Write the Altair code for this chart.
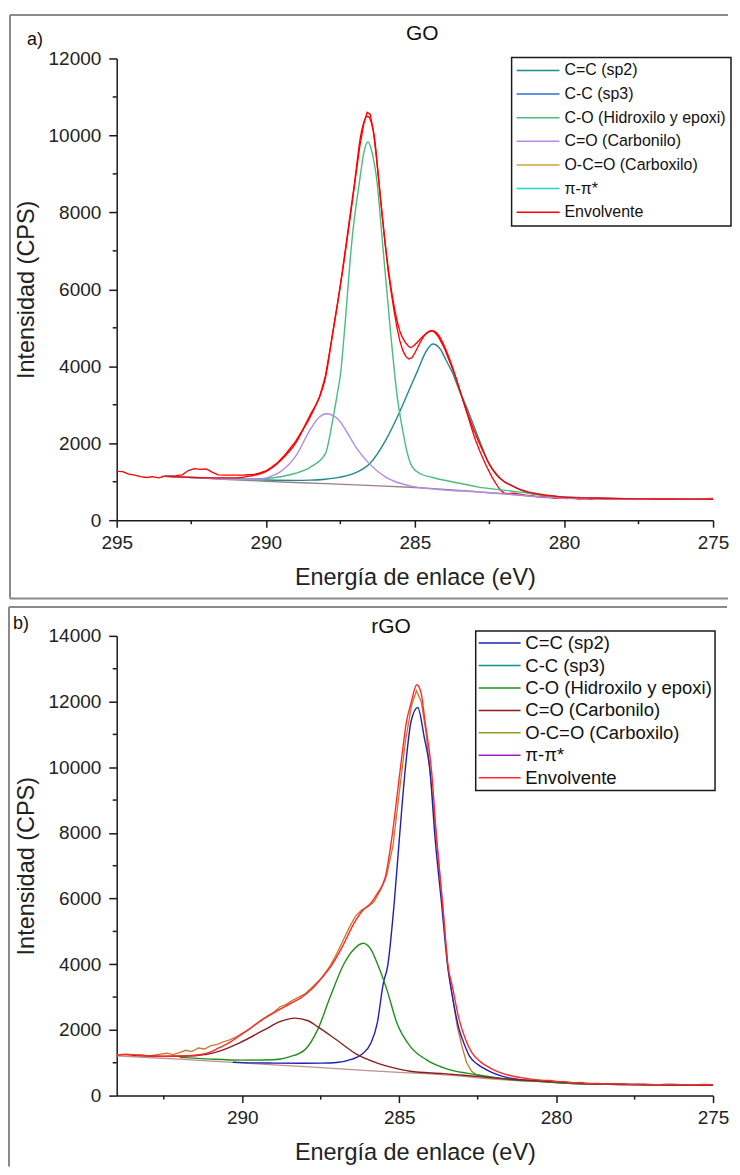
import altair as alt
import pandas as pd

# ---------------- labels / ticks ----------------
LABELS = ["C=C (sp2)", "C-C (sp3)", "C-O (Hidroxilo y epoxi)", "C=O (Carbonilo)",
          "O-C=O (Carboxilo)", "π-π*", "Envolvente"]
GO_COLORS = ["#20898f", "#2f6fd6", "#4cbb7f", "#b48ae6", "#c8a43a", "#22d3d3", "#ff0000"]
RGO_COLORS = ["#1f1fb4", "#0f8f8f", "#1f8f1f", "#8b1f1f", "#9a9a20", "#a020c8", "#ff2a2a"]

GO_XTICKS = [295, 290, 285, 280, 275]
GO_XMINOR = [292.5, 287.5, 282.5, 277.5]
GO_YTICKS = [0, 2000, 4000, 6000, 8000, 10000, 12000]
GO_YMINOR = [1000, 3000, 5000, 7000, 9000, 11000]
RGO_XTICKS = [290, 285, 280, 275]
RGO_XMINOR = [292.5, 287.5, 282.5, 277.5]
RGO_YTICKS = [0, 2000, 4000, 6000, 8000, 10000, 12000, 14000]
RGO_YMINOR = [1000, 3000, 5000, 7000, 9000, 11000, 13000]

# ---------------- GO (panel a) ----------------
GO_BG_E = [293.5, 292.9, 292, 291, 290, 289, 288, 287, 286.2, 285, 284, 283, 282.9, 282.3, 281.5, 281, 280.6, 280, 279, 278, 277, 276, 275]
GO_BG_I = [1145, 1120, 1090, 1050, 1010, 980, 950, 920, 890, 850, 800, 750, 735, 700, 650, 615, 590, 570, 555, 550, 548, 546, 545]

GO_CC_E = [293.4, 292, 291, 290, 289, 288.5, 288, 287.5, 287, 286.5, 286, 285.5, 285.2, 284.9, 284.65, 284.4, 284.15, 283.95, 283.75, 283.5, 283.3, 282.9, 282.5, 282.2, 281.75, 281.1, 280.3, 279.5, 279, 278, 277, 276, 275]
GO_CC_I = [1140, 1095, 1065, 1045, 1035, 1040, 1065, 1120, 1230, 1480, 2050, 2830, 3370, 3900, 4350, 4580, 4450, 4150, 3850, 3350, 3000, 2200, 1450, 1120, 900, 690, 620, 590, 575, 560, 552, 548, 545]

GO_CO_E = [293.4, 292, 291, 290.5, 290, 289.5, 289, 288.5, 288, 287.76, 287.62, 287.48, 287.37, 287.09, 286.87, 286.7, 286.57, 286.42, 286.26, 286.11, 285.81, 285.59, 285.4, 285.3, 285.1, 284.8, 284.4, 283.5, 282.9, 281.8, 281, 280, 279, 278, 277, 276, 275]
GO_CO_I = [1140, 1100, 1080, 1075, 1085, 1130, 1220, 1380, 1730, 2590, 3200, 3890, 4840, 7430, 8730, 9600, 9830, 9500, 8730, 7430, 4840, 3200, 2300, 1900, 1400, 1200, 1110, 960, 865, 760, 680, 600, 570, 555, 550, 547, 545]

GO_CDO_E = [293.4, 292, 291, 290.2, 289.9, 289.53, 288.98, 288.53, 288.2, 287.98, 287.8, 287.59, 287.31, 286.98, 286.53, 285.98, 285.5, 285.09, 284.5, 283.98, 283.5, 283, 282, 281, 280, 279, 277, 275]
GO_CDO_I = [1145, 1095, 1055, 1060, 1120, 1250, 1685, 2330, 2680, 2765, 2740, 2635, 2330, 1900, 1470, 1120, 960, 880, 820, 780, 760, 740, 690, 620, 575, 558, 549, 545]

GO_ENV_E = [293.4, 292, 291, 290.5, 290, 289.5, 289, 288.5, 288.2, 288, 287.76, 287.5, 287.26, 287.03, 286.81, 286.59, 286.37, 286.2, 286.03, 285.73, 285.5, 285.3, 285.14, 284.95, 284.7, 284.42, 284.2, 284, 283.75, 283.42, 283.2, 283, 282.75, 282.5, 282.25, 282, 281.75, 281.5, 281, 280.5, 280, 279, 278, 277, 276, 275]
GO_ENV_I = [1145, 1100, 1100, 1150, 1260, 1550, 2000, 2750, 3196, 3700, 4840, 6100, 7430, 8730, 10020, 10500, 10020, 8730, 7430, 5700, 4900, 4600, 4490, 4600, 4800, 4925, 4800, 4500, 4000, 3196, 2700, 2300, 1850, 1450, 1180, 1000, 900, 810, 700, 640, 600, 575, 560, 552, 548, 545]

GO_DATA_E = [295, 294.8, 294.6, 294.4, 294.2, 294, 293.8, 293.6, 293.4, 293.2, 293, 292.8, 292.6, 292.4, 292.2, 292, 291.8, 291.6, 291.3, 291, 290.7, 290.4, 290.2, 290, 289.8, 289.6, 289.4, 289.2, 289, 288.8, 288.6, 288.4, 288.2, 288, 287.8, 287.6, 287.4, 287.2, 287, 286.85, 286.7, 286.6, 286.5, 286.4, 286.3, 286.2, 286.1, 286, 285.9, 285.8, 285.7, 285.6, 285.5, 285.4, 285.3, 285.2, 285.1, 285, 284.9, 284.8, 284.7, 284.6, 284.5, 284.4, 284.3, 284.2, 284.1, 284, 283.9, 283.8, 283.6, 283.4, 283.2, 283, 282.8, 282.6, 282.4, 282.2, 282.1, 282, 281.9, 281.7, 281.5, 281.3, 281.1, 280.9, 280.7, 280.5, 280.3, 280.1, 279.9, 279.7, 279.5, 279.3, 279.1, 278.9, 278.6, 278.3, 278, 277.6, 277.2, 276.8, 276.4, 276, 275.6, 275.3, 275]
GO_DATA_I = [1270, 1260, 1200, 1170, 1130, 1110, 1130, 1100, 1140, 1150, 1160, 1180, 1290, 1340, 1320, 1330, 1250, 1180, 1170, 1170, 1175, 1190, 1230, 1280, 1380, 1500, 1660, 1850, 2050, 2300, 2550, 2850, 3200, 3750, 4650, 5600, 6600, 7700, 8850, 9700, 10350, 10600, 10550, 10150, 9500, 8750, 7950, 7200, 6500, 5950, 5450, 5000, 4650, 4400, 4250, 4190, 4220, 4350, 4500, 4650, 4780, 4870, 4920, 4920, 4850, 4750, 4600, 4450, 4250, 4050, 3650, 3150, 2650, 2150, 1750, 1400, 1100, 850, 760, 700, 690, 700, 680, 650, 640, 610, 620, 600, 570, 590, 560, 575, 545, 560, 540, 565, 545, 555, 560, 550, 555, 545, 555, 560, 550, 560, 565]

# ---------------- rGO (panel b) ----------------
RGO_BG_E = [294, 293, 292, 291, 290, 289, 288, 287, 286, 285, 284.5, 284, 283, 282.5, 282, 281.5, 281, 280, 279, 278, 277, 276, 275]
RGO_BG_I = [1210, 1160, 1110, 1050, 995, 935, 880, 820, 760, 710, 685, 660, 590, 540, 505, 470, 445, 410, 375, 350, 335, 328, 325]

RGO_CC_E = [290.3, 290, 289, 288, 287.5, 287, 286.5, 286.2, 285.9, 285.7, 285.5, 285.37, 285.16, 284.99, 284.81, 284.62, 284.41, 284.2, 284.02, 283.86, 283.65, 283.45, 283.3, 283.1, 282.9, 282.76, 282.5, 282.23, 281.5, 280.45, 279.4, 278, 277, 276, 275]
RGO_CC_I = [1015, 1005, 990, 985, 990, 1010, 1110, 1250, 1600, 2200, 3450, 3925, 5850, 7875, 9900, 11400, 11820, 10900, 9900, 7875, 5850, 3900, 3000, 2050, 1500, 1200, 950, 790, 540, 435, 365, 340, 330, 325, 322]

RGO_CO_E = [292, 291, 290, 289, 288.5, 288, 287.6, 287.2, 286.75, 286.45, 286.15, 285.9, 285.7, 285.39, 285.07, 284.65, 284.13, 283.4, 282.55, 281.5, 280.5, 279.5, 278, 277, 275]
RGO_CO_I = [1165, 1110, 1080, 1090, 1180, 1400, 2000, 3000, 4030, 4450, 4640, 4450, 4030, 3220, 2200, 1500, 1090, 790, 640, 490, 430, 370, 340, 330, 320]

RGO_CDO_E = [293.5, 292.5, 291.5, 290.75, 290.1, 289.3, 288.8, 288.33, 287.9, 287.6, 287, 286.33, 285.7, 285.2, 284.65, 283.6, 282, 281, 280, 279, 278, 277, 275]
RGO_CDO_I = [1230, 1195, 1215, 1345, 1600, 2000, 2250, 2360, 2280, 2100, 1700, 1245, 990, 850, 740, 670, 540, 470, 420, 370, 345, 332, 322]

RGO_ENV_E = [294, 293.7, 293.4, 293, 292.6, 292.2, 291.8, 291.38, 291, 290.75, 290.4, 290.12, 289.7, 289.28, 288.85, 288.44, 288.1, 287.81, 287.5, 287.18, 286.81, 286.44, 286.15, 285.91, 285.7, 285.44, 285.23, 284.97, 284.76, 284.63, 284.44, 284.3, 284.18, 283.97, 283.81, 283.62, 283.44, 283.3, 283.1, 282.9, 282.7, 282.4, 282.1, 281.8, 281.5, 281.2, 281, 280.8, 280.5, 280.2, 280, 279.7, 279.5, 279.2, 279, 278.7, 278.4, 278, 277.6, 277.2, 276.8, 276.4, 276, 275.6, 275.3, 275]
RGO_ENV_I = [1220, 1260, 1240, 1210, 1200, 1205, 1215, 1245, 1330, 1450, 1620, 1800, 2080, 2360, 2600, 2815, 3000, 3220, 3550, 3925, 4535, 5245, 5650, 5850, 6150, 6660, 7875, 9900, 11420, 11925, 12510, 12250, 11420, 9900, 7875, 5850, 3925, 3300, 2350, 1750, 1330, 1020, 840, 710, 620, 560, 530, 500, 470, 460, 430, 420, 390, 400, 360, 370, 350, 360, 340, 350, 330, 345, 335, 330, 340, 335]

RGO_DATA_E = [294, 293.8, 293.5, 293.2, 293, 292.8, 292.6, 292.4, 292.2, 292, 291.8, 291.6, 291.4, 291.2, 291, 290.8, 290.6, 290.4, 290.2, 290, 289.8, 289.6, 289.4, 289.2, 289, 288.8, 288.6, 288.4, 288.2, 288, 287.8, 287.5, 287.2, 287, 286.8, 286.6, 286.4, 286.2, 286, 285.8, 285.6, 285.4, 285.2, 285, 284.8, 284.6, 284.45, 284.3, 284.15, 284, 283.8, 283.6, 283.45, 283.3, 283.15, 283, 282.85, 282.7, 282.55, 282.4, 282.2, 282]
RGO_DATA_I = [1230, 1250, 1220, 1240, 1200, 1230, 1260, 1290, 1250, 1310, 1380, 1340, 1450, 1420, 1520, 1560, 1640, 1700, 1780, 1900, 2000, 2150, 2300, 2420, 2540, 2700, 2780, 2900, 3000, 3100, 3280, 3550, 3950, 4300, 4700, 5100, 5450, 5650, 5750, 5900, 6250, 6700, 7600, 9200, 10800, 11900, 12330, 12000, 11100, 9700, 7700, 5700, 3900, 3000, 2100, 1500, 1000, 750, 640, 600, 560, 530]

FONT = "Liberation Sans"


def df_of(E, I, name):
    return pd.DataFrame({"E": E, "I": I, "serie": name})


def panel(xdom, ydom, w, h, xticks, xminor, yticks, yminor,
          comps, bg, data, colors, data_color, bg_color, legend, frame, texts):
    xs = alt.Scale(domain=xdom, reverse=True, nice=False, zero=False)
    ys = alt.Scale(domain=ydom, nice=False, zero=False)
    x_axis = alt.Axis(values=xticks, format="d", tickSize=7, labelPadding=6,
                      title="Energía de enlace (eV)", titlePadding=13)
    y_axis = alt.Axis(values=yticks, format="d", tickSize=8, labelPadding=8,
                      title="Intensidad (CPS)", titlePadding=10)
    one = pd.DataFrame({"k": [0]})

    comp_df = pd.concat([df_of(*c) for c in comps], ignore_index=True)
    color = alt.Color("serie:N", scale=alt.Scale(domain=LABELS, range=colors),
                      sort=LABELS, legend=legend)

    def X(f):
        return alt.X(f, scale=xs, axis=x_axis)

    def Y(f):
        return alt.Y(f, scale=ys, axis=y_axis)

    base_line = alt.Chart(df_of(*bg)).mark_line(color=bg_color, strokeWidth=1.3).encode(
        x=X("E:Q"), y=Y("I:Q"))
    data_line = alt.Chart(df_of(*data)).mark_line(color=data_color, strokeWidth=1.3).encode(
        x=X("E:Q"), y=Y("I:Q"))
    comp_lines = alt.Chart(comp_df).mark_line(strokeWidth=1.4, interpolate="monotone").encode(
        x=X("E:Q"), y=Y("I:Q"), color=color)
    xmin = alt.Chart(pd.DataFrame({"E": xminor})).mark_rule(color="#1a1a1a", strokeWidth=1.5).encode(
        x=X("E:Q"), y=alt.value(h), y2=alt.value(h + 4))
    ymin = alt.Chart(pd.DataFrame({"I": yminor})).mark_rule(color="#1a1a1a", strokeWidth=1.5).encode(
        y=Y("I:Q"), x=alt.value(0), x2=alt.value(-4))

    layers = [base_line, data_line, comp_lines, xmin, ymin]
    for (x1, y1, x2, y2) in frame:
        enc = {"x": alt.value(x1), "y": alt.value(y1)}
        if x2 is not None:
            enc["x2"] = alt.value(x2)
        if y2 is not None:
            enc["y2"] = alt.value(y2)
        layers.append(alt.Chart(one).mark_rule(color="#8a8a8a", strokeWidth=2).encode(**enc))
    for (txt, tx, ty, fs, al) in texts:
        layers.append(alt.Chart(one).mark_text(text=txt, font=FONT, fontSize=fs, align=al,
                                               baseline="alphabetic", color="#111").encode(
            x=alt.value(tx), y=alt.value(ty)))
    return alt.layer(*layers).properties(width=w, height=h)


legend_a = alt.Legend(title=None, orient="none", legendX=396, legendY=-1, offset=0, padding=5,
                      rowPadding=7.7, labelFont=FONT, labelFontSize=16, labelColor="#111",
                      symbolType="M-10.75,0H10.75", symbolSize=16, symbolStrokeWidth=1.5,
                      symbolOffset=13.5, labelOffset=18.5, labelLimit=400,
                      strokeColor="#1a1a1a", fillColor="white")
legend_b = alt.Legend(title=None, orient="none", legendX=360, legendY=-5, offset=0, padding=3,
                      rowPadding=3.5, labelFont=FONT, labelFontSize=18.5, labelColor="#111",
                      symbolType="M-10.5,0H10.5", symbolSize=16, symbolStrokeWidth=1.5,
                      symbolOffset=11.75, labelOffset=16.5, labelLimit=400,
                      strokeColor="#1a1a1a", fillColor="white")

panel_a = panel(
    [275, 295], [0, 12000], 598, 463, GO_XTICKS, GO_XMINOR, GO_YTICKS, GO_YMINOR,
    [(GO_CC_E, GO_CC_I, LABELS[0]), (GO_CO_E, GO_CO_I, LABELS[2]),
     (GO_CDO_E, GO_CDO_I, LABELS[3]), (GO_ENV_E, GO_ENV_I, LABELS[6])],
    (GO_BG_E, GO_BG_I, "fondo"), (GO_DATA_E, GO_DATA_I, "datos"),
    GO_COLORS, "#ff0000", "#9d7f7f", legend_a,
    [(-107, -43.7, 613, None), (-107, -43.7, None, 541.5), (-107, 541.5, 613, None)],
    [("GO", 306.5, -19, 21, "center"), ("a)", -90, -14, 18, "left")])

panel_b = panel(
    [275, 294], [0, 14000], 598, 461, RGO_XTICKS, RGO_XMINOR, RGO_YTICKS, RGO_YMINOR,
    [(RGO_CC_E, RGO_CC_I, LABELS[0]), (RGO_CO_E, RGO_CO_I, LABELS[2]),
     (RGO_CDO_E, RGO_CDO_I, LABELS[3]), (RGO_ENV_E, RGO_ENV_I, LABELS[6])],
    (RGO_BG_E, RGO_BG_I, "fondo"), (RGO_DATA_E, RGO_DATA_I, "datos"),
    RGO_COLORS, "#c8782c", "#c09090", legend_b,
    [(-108, -29, 612, None), (-108, -29, None, 532)],
    [("rGO", 275, -3, 21, "center"), ("b)", -104, -7, 18, "left")])

chart = alt.vconcat(panel_a, panel_b, spacing=6).resolve_scale(color="independent").properties(
    padding={"left": 0, "top": 4, "right": 0, "bottom": 0}
).configure_view(stroke=None).configure_axis(
    grid=False, domainColor="#1a1a1a", domainWidth=1.5, tickColor="#1a1a1a", tickWidth=1.5,
    labelFont=FONT, labelFontSize=19, labelColor="#222", labelFlush=False, labelOverlap=False,
    titleFont=FONT, titleFontSize=23.5, titleFontWeight="normal", titleColor="#222"
).configure_legend(strokeWidth=1.5)

chart.save("out.html", embed_options={"renderer": "svg", "actions": False})
